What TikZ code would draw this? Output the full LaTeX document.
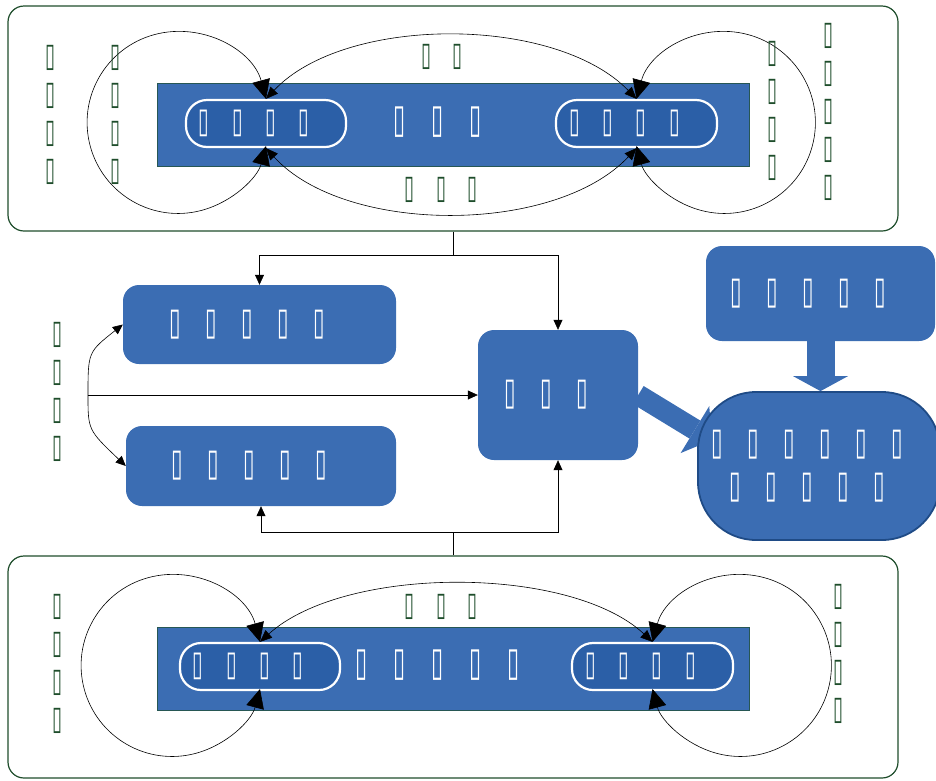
\documentclass[tikz,border=0pt]{standalone}
\usepackage{fontspec}
\newfontfamily\glyphfont[FakeStretch=0.55,WordSpace=3.7]{DejaVu Sans}
\usetikzlibrary{arrows.meta}
\definecolor{framegreen}{HTML}{1E4D2B}
\definecolor{panelblue}{HTML}{3B6DB3}
\definecolor{pillblue}{HTML}{2B5FA7}
\definecolor{edgeblue}{HTML}{1F4B86}
\pgfdeclarelayer{back}
\pgfsetlayers{back,main}

\begin{document}
\begin{tikzpicture}[x=1pt,y=-1pt,font=\glyphfont]
\useasboundingbox (0,0) rectangle (936,780);

\tikzset{
% frames, bars and boxes
frame/.style={draw=framegreen,line width=1.2pt,rounded corners=16pt,inner sep=0},
bar/.style={draw=framegreen!70!panelblue,fill=panelblue,line width=0.7pt,inner sep=0},
pill/.style={draw=white,fill=pillblue,line width=2.2pt,rounded corners=21pt,minimum width=160pt,minimum height=47pt,inner sep=0},
panel/.style={fill=panelblue,rounded corners=16pt,inner sep=0},
% texts
pilltext/.style={text=white,inner sep=0,xshift=-12pt,font=\glyphfont\fontsize{35}{40}\selectfont},
boxtext/.style={text=white,inner sep=0,xshift=-12pt,align=center,font=\glyphfont\fontsize{38}{43}\selectfont},
note/.style={text=framegreen,inner sep=0,align=center,font=\glyphfont\fontsize{33}{38}\selectfont},
bartext/.style={text=white,inner sep=0,font=\glyphfont\fontsize{40}{44}\selectfont},
% connectors
loop/.style={{Triangle[length=19pt,width=18pt]}-{Triangle[length=19pt,width=18pt]},line width=0.6pt},
arc/.style={{Triangle[length=12pt,width=10pt]}-{Triangle[length=12pt,width=10pt]},line width=0.6pt},
link/.style={-{Triangle[length=10pt,width=9pt]},line width=0.6pt},
block/.style={draw=panelblue,line width=#1}
}

% Upper frame
\node[frame,minimum width=890pt,minimum height=225pt] (topframe) at (453,118.5) {};
\node[bar,minimum width=592pt,minimum height=83pt] (topbar) at (453,124.5) {};
\node[pill,label={[pilltext]center:▯ ▯ ▯ ▯}] (lp) at (266,123.5) {};
\node[pill,minimum width=161pt,label={[pilltext]center:▯ ▯ ▯ ▯}] (rp) at (636.5,123.5) {};
\node[bartext] (topmid) at (438,122) {▯ ▯ ▯};
\draw[loop] (lp.north) arc[start angle=-15,end angle=-345,radius=91];
\draw[loop] (rp.north) arc[start angle=195,end angle=525,radius=91];
\draw[arc] (lp.north) .. controls (345,15) and (555,15) .. (rp.north);
\draw[arc] (lp.south) .. controls (345,235) and (555,235) .. (rp.south);
\node[note] (toparc) at (442,57) {▯ ▯};
\node[note] (botarc) at (441,190) {▯ ▯ ▯};
\node[note] (tl1) at (50,115) {▯\\▯\\▯\\▯};
\node[note] (tl2) at (115,115) {▯\\▯\\▯\\▯};
\node[note] (tr1) at (772,111) {▯\\▯\\▯\\▯};
\node[note] (tr2) at (828,111.5) {▯\\▯\\▯\\▯\\▯};

% Lower frame
\node[frame,minimum width=890pt,minimum height=222pt] (botframe) at (453,667) {};
\node[bar,minimum width=592pt,minimum height=83pt] (botbar) at (453,668.5) {};
\node[pill,label={[pilltext]center:▯ ▯ ▯ ▯}] (lp2) at (260,666.5) {};
\node[pill,minimum width=161pt,label={[pilltext]center:▯ ▯ ▯ ▯}] (rp2) at (652.5,666.5) {};
\node[bartext] (botmid) at (438,665) {▯ ▯ ▯ ▯ ▯};
\draw[loop] (lp2.north) arc[start angle=-15,end angle=-345,radius=91];
\draw[loop] (rp2.north) arc[start angle=195,end angle=525,radius=91];
\draw[arc] (lp2.north) .. controls (345,565) and (570,565) .. (rp2.north);
\node[note] (lowarc) at (441,607) {▯ ▯ ▯};
\node[note] (bl) at (57,664) {▯\\▯\\▯\\▯};
\node[note] (br) at (838,654) {▯\\▯\\▯\\▯};

% Middle boxes
\node[panel,minimum width=273pt,minimum height=79pt,label={[boxtext]center:▯ ▯ ▯ ▯ ▯}] (upbox) at (259.5,324.5) {};
\node[panel,minimum width=270pt,minimum height=80pt,label={[boxtext]center:▯ ▯ ▯ ▯ ▯}] (lowbox) at (261,466) {};
\node[panel,minimum width=160pt,minimum height=130pt,label={[boxtext]center:▯ ▯ ▯}] (core) at (558,395) {};
\node[panel,minimum width=229pt,minimum height=95pt,label={[boxtext]center:▯ ▯ ▯ ▯ ▯}] (inbox) at (820.5,293.5) {};
\node[panel,draw=edgeblue,line width=1.8pt,rounded corners=58pt,minimum width=242pt,minimum height=148pt,label={[boxtext]center:▯ ▯ ▯ ▯ ▯ ▯\\▯ ▯ ▯ ▯ ▯}] (goal) at (819,466) {};
\node[note] (ml) at (57,391.5) {▯\\▯\\▯\\▯};
\coordinate (goalin) at (712,440);
\begin{pgfonlayer}{back}
\draw[block=21pt,-{Triangle[length=20pt,width=55pt,line width=0pt]}] (core.east) -- (goalin);
\draw[block=28pt,-{Triangle[length=15pt,width=55pt,line width=0pt]}] (inbox.south) -- (inbox.south |- goal.north);
\end{pgfonlayer}

% Connectors between the parts
\coordinate (fork) at (88,395);
\coordinate (split) at (453,255);
\coordinate (join) at (453,532);
\draw[line width=0.6pt] (topframe.south) -- (split);
\draw[link] (split) -| (upbox.north);
\draw[link] (split) -| (core.north);
\draw[line width=0.6pt] (botframe.north) -- (join);
\draw[link] (join) -| (lowbox.south);
\draw[link] (join) -| (core.south);
\draw[link] (fork) -- (core.west);
\draw[link] (fork) .. controls (88,352) .. (upbox.west);
\draw[link] (fork) .. controls (88,430) .. (lowbox.west);

\end{tikzpicture}
\end{document}
